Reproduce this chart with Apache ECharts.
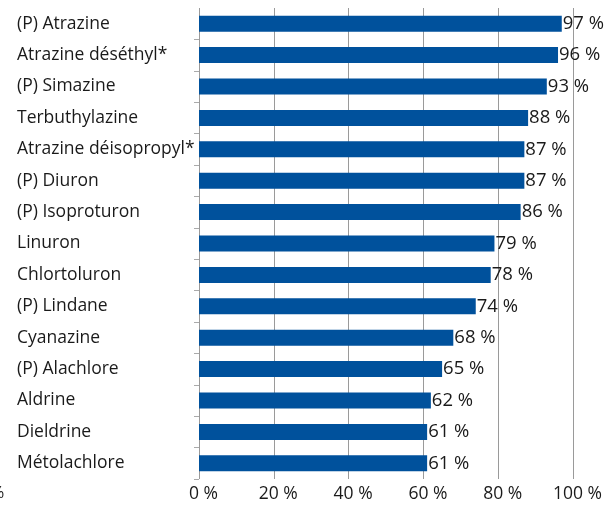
<!DOCTYPE html>
<html>
<head>
<meta charset="utf-8">
<script src="https://cdn.jsdelivr.net/npm/echarts@6/dist/echarts.min.js"></script>
<style>
  html, body { margin: 0; padding: 0; background: #fff; }
  #chart { width: 605px; height: 505px; }
</style>
</head>
<body>
<div id="chart"></div>
<script>
// Substances, top to bottom
const substances = [
  '(P) Atrazine', 'Atrazine déséthyl*', '(P) Simazine', 'Terbuthylazine',
  'Atrazine déisopropyl*', '(P) Diuron', '(P) Isoproturon', 'Linuron',
  'Chlortoluron', '(P) Lindane', 'Cyanazine', '(P) Alachlore',
  'Aldrine', 'Dieldrine', 'Métolachlore'
];
// Share in percent
const shares = [97, 96, 93, 88, 87, 87, 86, 79, 78, 74, 68, 65, 62, 61, 61];
// Value axis ticks
const tickValues = [0, 20, 40, 60, 80, 100];

const FONT = 'Open Sans';
const SIZE = 17.5;
const chart = echarts.init(document.getElementById('chart'));
chart.setOption({
  animation: false,
  grid: { left: 199, right: 32, top: 8, bottom: 26, containLabel: false },
  xAxis: {
    type: 'value', min: tickValues[0], max: tickValues[tickValues.length - 1], interval: 20,
    axisLine: { show: false }, axisTick: { show: false },
    axisLabel: {
      formatter: v => v + ' %', color: '#1a1a1a', fontFamily: FONT, fontSize: SIZE,
      margin: 6, padding: [0, 0, 0, 9]
    },
    splitLine: {
      show: true,
      lineStyle: { color: '#9a9a9a', width: 1 },
      interval: (i, v) => v !== 0
    }
  },
  yAxis: {
    type: 'category', data: substances, inverse: true,
    axisLine: { show: false },
    axisTick: {
      show: true, length: 5, lineStyle: { color: '#aaa' },
      interval: i => i !== 0
    },
    axisLabel: {
      align: 'left', margin: 182, color: '#1a1a1a', fontFamily: FONT, fontSize: SIZE,
      padding: [0, 0, 6, 0]
    }
  },
  series: [{
    type: 'bar', data: shares, barWidth: 16,
    itemStyle: { color: '#00519c' },
    label: {
      show: true, position: 'right', distance: 1,
      formatter: p => p.value + ' %', color: '#1a1a1a', fontFamily: FONT, fontSize: 18.5,
      padding: [0, 0, 7, 0]
    }
  }],
  graphic: [{
    type: 'text', left: -9, top: 485,
    style: { text: '%', font: '16px ' + FONT, fill: '#1a1a1a' }
  }]
});
</script>
</body>
</html>
